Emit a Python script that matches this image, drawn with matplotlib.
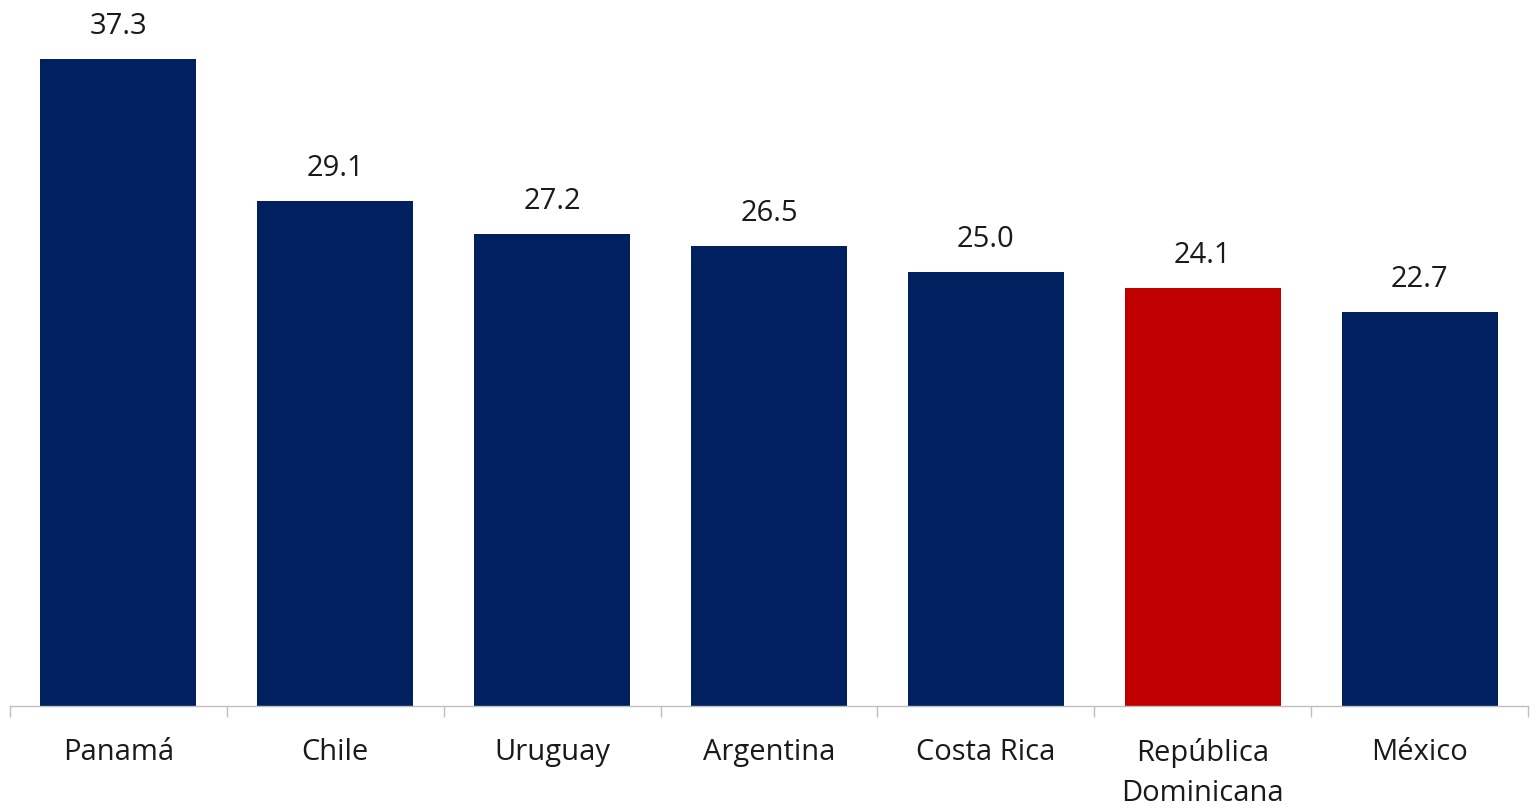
import matplotlib.pyplot as plt
import numpy as np

paises = ["Panamá", "Chile", "Uruguay", "Argentina", "Costa Rica",
          "República\nDominicana", "México"]
valores = [37.3, 29.1, 27.2, 26.5, 25.0, 24.1, 22.7]
colores = ["#002060"] * 5 + ["#C00000"] + ["#002060"]

plt.rcParams['font.family'] = ['Open Sans', 'DejaVu Sans']

fig = plt.figure(figsize=(15.36, 8.09), dpi=100)
ax = fig.add_axes([10 / 1536, 103 / 809, 1518 / 1536, 706 / 809])

x = np.arange(len(paises))
bars = ax.bar(x, valores, width=0.72, color=colores)

for xi, v in zip(x, valores):
    ax.text(xi, v + 1.05, f"{v:.1f}", ha='center', va='bottom', fontsize=21, color='#1a1a1a')

ax.set_xlim(-0.5, len(paises) - 0.5)
ax.set_ylim(0, 40.7)
ax.set_yticks([])
ax.set_xticks(x)
ax.set_xticklabels(paises, fontsize=21, color='#1a1a1a', linespacing=1.5)
ax.tick_params(axis='x', which='major', length=0, pad=23)
ax.set_xticks(np.arange(-0.5, len(paises), 1), minor=True)
ax.tick_params(axis='x', which='minor', length=8, width=1, color='#BFBFBF')

for s in ['top', 'right', 'left']:
    ax.spines[s].set_visible(False)
ax.spines['bottom'].set_color('#BFBFBF')
ax.spines['bottom'].set_linewidth(1)

fig.savefig("out.png", dpi=100)
